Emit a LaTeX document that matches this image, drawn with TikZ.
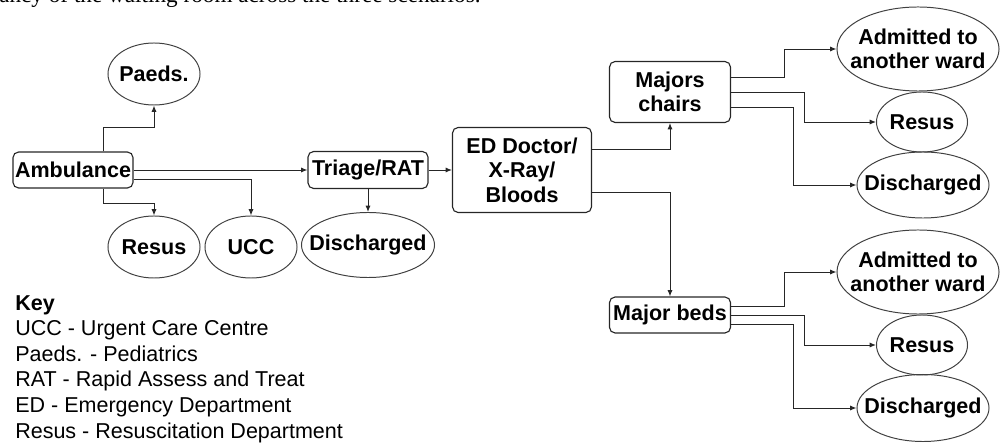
\documentclass[tikz,border=0pt]{standalone}
\usepackage{fontspec}
\setmainfont{Liberation Sans}
\newfontfamily\captionserif{Liberation Serif}
\usetikzlibrary{arrows.meta,shapes.geometric,calc}
\newcommand{\nodefont}{\fontsize{15.3}{17.5}\selectfont\bfseries}
% zero-width text so the ellipse keeps its given size
\newcommand{\nowide}[1]{\makebox[0pt]{#1}}
\tikzset{
  stagebox/.style={draw=black!85, rounded corners=4pt, align=center,
              font=\nodefont, inner sep=0pt, line width=0.8pt},
  outcome/.style={ellipse, draw=black!75, align=center, font=\nodefont,
              inner sep=0pt, line width=0.7pt},
  flow/.style={-{Latex[length=1.6mm,width=1.3mm]}, line width=0.7pt, black!85},
  keytext/.style={font=\fontsize{15.3}{18.2}\selectfont, align=left, inner sep=0pt},
}

\begin{document}
\begin{tikzpicture}[x=0.025cm, y=-0.025cm]
  \useasboundingbox (0,0) rectangle (1000,445);
  \clip (0,0) rectangle (1000,445);
  % caption line cut off by the page
  \node[anchor=base west, inner sep=0pt,
    font=\captionserif\fontsize{16.5}{18}\selectfont] (cap) at (-1,3)
    {ancy of the waiting room across the three scenarios.};
  % arrival and triage
  \node[stagebox, minimum width=3cm, minimum height=0.9cm] at (73,170)
    (amb) {Ambulance};
  \node[outcome, minimum width=2.3cm, minimum height=1.55cm] at (154,74)
    (paeds) {\nowide{Paeds.}};
  \node[outcome, minimum width=2.3cm, minimum height=1.55cm] at (154,247)
    (resA) {\nowide{Resus}};
  \node[outcome, minimum width=2.3cm, minimum height=1.55cm] at (251,247)
    (ucc) {\nowide{UCC}};
  \node[stagebox, minimum width=3cm, minimum height=0.925cm] at (368,170)
    (triage) {Triage/RAT};
  \node[outcome, minimum width=3.325cm, minimum height=1.625cm] at (368,245)
    (disA) {\nowide{Discharged}};
  \node[stagebox, minimum width=3.475cm, minimum height=2.125cm] at (522,170)
    (ed) {ED Doctor/\\X-Ray/\\Bloods};
  % majors
  \node[stagebox, minimum width=3.025cm, minimum height=1.525cm] at (670,92)
    (chairs) {Majors\\chairs};
  \node[stagebox, minimum width=3.025cm, minimum height=0.9cm] at (670,315)
    (beds) {Major beds};
  \node[outcome, minimum width=4.05cm, minimum height=2.1cm] at (918,49)
    (admC) {\nowide{Admitted to}\\\nowide{another ward}};
  \node[outcome, minimum width=2.275cm, minimum height=1.5cm] at (922,122)
    (resC) {\nowide{Resus}};
  \node[outcome, minimum width=3.3cm, minimum height=1.65cm] at (923,185)
    (disC) {\nowide{Discharged}};
  \node[outcome, minimum width=4.05cm, minimum height=2.1cm] at (918,272)
    (admB) {\nowide{Admitted to}\\\nowide{another ward}};
  \node[outcome, minimum width=2.275cm, minimum height=1.5cm] at (922,345)
    (resB) {\nowide{Resus}};
  \node[outcome, minimum width=3.3cm, minimum height=1.675cm] at (923,408)
    (disB) {\nowide{Discharged}};
  % key
  \node[keytext, anchor=north west] at (15,295) (key)
    {\textbf{Key}\\UCC - Urgent Care Centre\\Paeds. - Pediatrics\\
     RAT - Rapid Assess and Treat\\ED - Emergency Department\\
     Resus - Resuscitation Department};
  % flows
  \draw[flow] ($(amb.north)+(30,0)$) -- ++(0,-24) -| (paeds.south);
  \draw[flow] (amb.east) -- (triage.west);
  \draw[flow] ($(amb.east)+(0,9)$) -| (ucc.north);
  \draw[flow] ($(amb.south)+(30,0)$) -- ++(0,15) -| (resA.north);
  \draw[flow] (triage.south) -- (disA.north);
  \draw[flow] (triage.east) -- (ed.west);
  \draw[flow] ($(ed.east)+(0,-21)$) -| (chairs.south);
  \draw[flow] ($(ed.east)+(0,22)$) -| (beds.north);
  \draw[flow] ($(chairs.east)+(0,-15)$) -- ++(53,0) |- (admC.west);
  \draw[flow] (chairs.east) -- ++(73,0) |- (resC.west);
  \draw[flow] ($(chairs.east)+(0,15)$) -- ++(62,0) |- (disC.west);
  \draw[flow] ($(beds.east)+(0,-9)$) -- ++(53,0) |- (admB.west);
  \draw[flow] (beds.east) -- ++(73,0) |- (resB.west);
  \draw[flow] ($(beds.east)+(0,9)$) -- ++(62,0) |- (disB.west);
\end{tikzpicture}
\end{document}
